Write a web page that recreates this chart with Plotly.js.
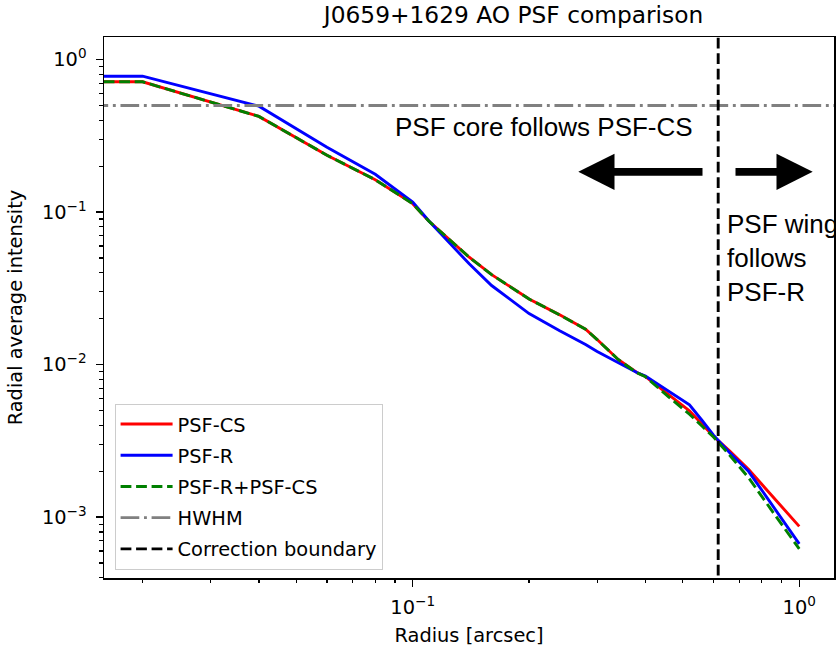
<!DOCTYPE html>
<html>
<head>
<meta charset="utf-8">
<script src="https://cdn.plot.ly/plotly-3.0.1.min.js"></script>
<style>html,body{margin:0;padding:0;background:#fff;}#chart{width:836px;height:654px;}</style>
</head>
<body>
<div id="chart"></div>
<script>
// Radius grid in arcsec (first point lies left of the visible range, as in the original)
const radius_arcsec = [0.01, 0.02, 0.04, 0.06, 0.08, 0.10, 0.11, 0.14, 0.16, 0.20, 0.24, 0.28, 0.30, 0.34, 0.38, 0.40, 0.46, 0.52, 0.56, 0.60, 0.66, 0.74, 0.82, 0.90, 1.00];
const psf_cs   = [0.715, 0.715, 0.424, 0.236, 0.163, 0.1136, 0.0873, 0.0506, 0.0389, 0.0269, 0.0212, 0.01706, 0.0146, 0.01081, 0.00887, 0.00836, 0.00634, 0.00497, 0.00408, 0.00339, 0.00272, 0.00205, 0.00153, 0.00117, 0.00087];
const psf_r    = [0.778, 0.778, 0.495, 0.266, 0.177, 0.1162, 0.0877, 0.0458, 0.0330, 0.0216, 0.01668, 0.01357, 0.0122, 0.01032, 0.00887, 0.00841, 0.0067, 0.00545, 0.00432, 0.00345, 0.002656, 0.00199, 0.001374, 0.000979, 0.000668];
const psf_r_cs = [0.715, 0.715, 0.424, 0.236, 0.163, 0.1136, 0.0873, 0.0506, 0.0389, 0.0269, 0.0212, 0.01706, 0.0146, 0.01081, 0.00885, 0.00832, 0.00613, 0.00473, 0.00396, 0.00335, 0.002554, 0.001807, 0.001251, 0.000899, 0.000619];
const hwhm_level = 0.5;
const correction_boundary = 0.617;

const x_tick_vals = [0.1, 1];
const x_tick_text = ['10<sup>\u22121</sup>', '10<sup>0</sup>'];
const y_tick_vals = [0.001, 0.01, 0.1, 1];
const y_tick_text = ['10<sup>\u22123</sup>', '10<sup>\u22122</sup>', '10<sup>\u22121</sup>', '10<sup>0</sup>'];

const xRange = [-1.7987, 0.0899];
const yRange = [-3.399, 0.148];
const LW = 2.9;
const FONT = 'DejaVu Sans';
const FS = 19.4;

// minor log ticks (2..9 x 10^n)
const minorVals = [];
for (let e = -5; e <= 1; e++) for (let d = 2; d <= 9; d++) minorVals.push(d * Math.pow(10, e));

const traces = [
  {x: radius_arcsec, y: psf_cs, mode: 'lines', name: 'PSF-CS', legendgroup: 'a',
   line: {color: '#ff0000', width: LW}},
  {x: radius_arcsec, y: psf_r, mode: 'lines', name: 'PSF-R', legendgroup: 'b',
   line: {color: '#0000ff', width: LW}},
  {x: radius_arcsec, y: psf_r_cs, mode: 'lines', name: 'PSF-R+PSF-CS', legendgroup: 'c',
   line: {color: '#008000', width: LW, dash: '10.8px,4.7px'}},
  {x: [Math.pow(10, xRange[0] - 1), Math.pow(10, xRange[1] + 1)], y: [hwhm_level, hwhm_level],
   mode: 'lines', name: 'HWHM', legendgroup: 'd',
   line: {color: '#808080', width: LW, dash: '18.7px,4.7px,2.9px,4.7px'}},
  {x: [correction_boundary, correction_boundary], y: [Math.pow(10, yRange[0] - 1), Math.pow(10, yRange[1] + 1)],
   mode: 'lines', name: 'Correction boundary', legendgroup: 'e',
   line: {color: '#000000', width: LW, dash: '10.8px,4.7px'}},
  // carrier for the minor-tick axes (no visible mark)
  {x: [0.5], y: [0.5], xaxis: 'x2', yaxis: 'y2', mode: 'markers', marker: {opacity: 0, size: 1},
   showlegend: false, hoverinfo: 'skip'}
];

const axisCommon = {
  type: 'log', showgrid: false, zeroline: false,
  showline: true, linecolor: '#000', linewidth: 1.5, mirror: true,
  ticks: 'outside', ticklen: 7, tickwidth: 1.5, tickcolor: '#000',
  tickmode: 'array',
  tickfont: {family: FONT, size: FS, color: '#000'}
};
const minorAxis = {
  type: 'log', showgrid: false, zeroline: false, showline: false,
  ticks: 'outside', ticklen: 4, tickwidth: 1.2, tickcolor: '#000',
  tickmode: 'array', tickvals: minorVals, showticklabels: false
};

const layout = {
  width: 836, height: 654,
  margin: {l: 104, r: 2, t: 37, b: 76, pad: 0},
  paper_bgcolor: '#fff', plot_bgcolor: '#fff',
  showlegend: true,
  title: {text: 'J0659+1629 AO PSF comparison', font: {family: FONT, size: 23.3, color: '#000'},
          x: 0.5 + (104 - 2) / 2 / 836, xanchor: 'center', y: 1 - 15 / 654, yanchor: 'middle', xref: 'paper'},
  xaxis: Object.assign({}, axisCommon, {
    range: xRange, tickvals: x_tick_vals, ticktext: x_tick_text, ticklabelstandoff: 4,
    title: {text: 'Radius [arcsec]', standoff: 10, font: {family: FONT, size: FS, color: '#000'}}
  }),
  yaxis: Object.assign({}, axisCommon, {
    range: yRange, tickvals: y_tick_vals, ticktext: y_tick_text, ticklabelstandoff: 5,
    title: {text: 'Radial average intensity', standoff: 14, font: {family: FONT, size: FS, color: '#000'}}
  }),
  xaxis2: Object.assign({}, minorAxis, {range: xRange, overlaying: 'x', anchor: 'y', side: 'bottom'}),
  yaxis2: Object.assign({}, minorAxis, {range: yRange, overlaying: 'y', anchor: 'x', side: 'left'}),
  legend: {
    x: 0.0145, y: 0.015, xanchor: 'left', yanchor: 'bottom',
    bgcolor: 'rgba(255,255,255,0.85)', bordercolor: '#cccccc', borderwidth: 1,
    font: {family: FONT, size: FS, color: '#000'},
    traceorder: 'grouped', tracegroupgap: 3, itemwidth: 52
  },
  annotations: [
    {xref: 'paper', yref: 'paper', x: (695 - 104) / 730, y: (578.3 - 127) / 541.6,
     xanchor: 'right', yanchor: 'middle', showarrow: false,
     text: 'PSF core follows PSF-CS', font: {family: 'Liberation Sans', size: 26, color: '#000'}},
    {xref: 'paper', yref: 'paper', x: (725 - 104) / 730, y: (578.3 - 258) / 541.6,
     xanchor: 'left', yanchor: 'middle', align: 'left', showarrow: false,
     text: 'PSF wing<br>follows<br>PSF-R', font: {family: 'Liberation Sans', size: 26, color: '#000'}},
    {xref: 'paper', yref: 'paper', x: (578.3 - 104) / 730, y: (578.3 - 171.7) / 541.6,
     ax: 704 - 578.3, ay: 0, axref: 'pixel', ayref: 'pixel', showarrow: true, text: '',
     arrowhead: 2, arrowsize: 0.94, arrowwidth: 7.7, arrowcolor: '#000', standoff: 0, startstandoff: 0},
    {xref: 'paper', yref: 'paper', x: (812.7 - 104) / 730, y: (578.3 - 171.7) / 541.6,
     ax: 734 - 812.7, ay: 0, axref: 'pixel', ayref: 'pixel', showarrow: true, text: '',
     arrowhead: 2, arrowsize: 0.94, arrowwidth: 7.7, arrowcolor: '#000', standoff: 0, startstandoff: 0}
  ]
};

Plotly.newPlot('chart', traces, layout, {displayModeBar: false, staticPlot: true});
</script>
</body>
</html>
